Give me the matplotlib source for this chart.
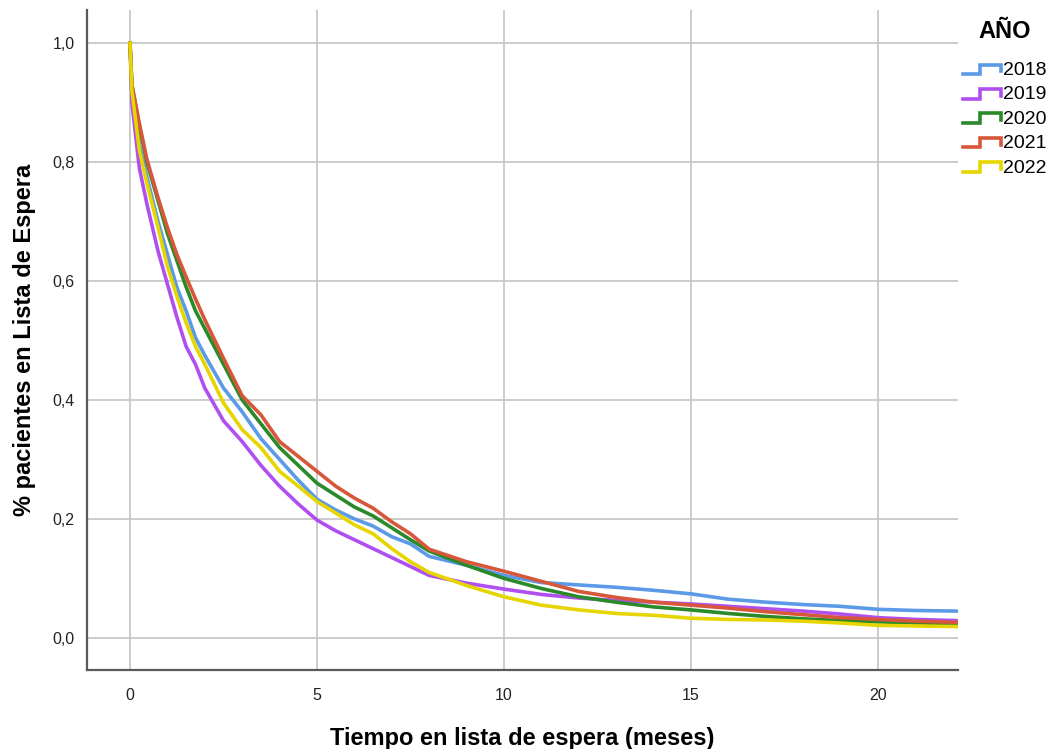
import matplotlib
matplotlib.use('Agg')
import matplotlib.pyplot as plt
from matplotlib.lines import Line2D
from matplotlib.legend_handler import HandlerBase

plt.rcParams['font.family'] = ['Liberation Sans', 'DejaVu Sans']

# tiempo (meses) y supervivencia
t = [0, 0.05, 0.25, 0.45, 0.75, 1, 1.25, 1.5, 1.75, 2, 2.5, 3, 3.5, 4, 4.5,
     5, 5.5, 6, 6.5, 7, 7.5, 8, 9, 10, 11, 12, 13, 14, 15, 16, 17, 18, 19,
     20, 21, 22.1]

s2018 = [1.0, 0.92, 0.83, 0.775, 0.70, 0.645, 0.59, 0.55, 0.505, 0.475, 0.42,
         0.38, 0.335, 0.30, 0.265, 0.233, 0.215, 0.20, 0.188, 0.17, 0.158,
         0.137, 0.122, 0.105, 0.093, 0.089, 0.085, 0.080, 0.074, 0.065, 0.060,
         0.056, 0.053, 0.048, 0.046, 0.045]
s2019 = [1.0, 0.90, 0.79, 0.73, 0.65, 0.595, 0.54, 0.49, 0.46, 0.42, 0.365,
         0.33, 0.29, 0.255, 0.225, 0.198, 0.18, 0.165, 0.15, 0.135, 0.12,
         0.105, 0.092, 0.082, 0.073, 0.067, 0.063, 0.060, 0.057, 0.053, 0.049,
         0.045, 0.040, 0.034, 0.031, 0.029]
s2020 = [1.0, 0.93, 0.86, 0.80, 0.735, 0.68, 0.635, 0.59, 0.55, 0.52, 0.46,
         0.40, 0.36, 0.32, 0.29, 0.26, 0.24, 0.22, 0.205, 0.185, 0.165,
         0.146, 0.122, 0.100, 0.083, 0.069, 0.060, 0.052, 0.047, 0.041, 0.036,
         0.032, 0.029, 0.027, 0.025, 0.024]
s2021 = [1.0, 0.93, 0.865, 0.805, 0.74, 0.69, 0.645, 0.607, 0.57, 0.535, 0.47,
         0.407, 0.375, 0.33, 0.305, 0.28, 0.255, 0.235, 0.218, 0.195, 0.175,
         0.149, 0.128, 0.112, 0.095, 0.078, 0.068, 0.060, 0.055, 0.050, 0.044,
         0.039, 0.034, 0.031, 0.028, 0.026]
s2022 = [1.0, 0.92, 0.82, 0.765, 0.69, 0.625, 0.575, 0.53, 0.49, 0.46, 0.395,
         0.35, 0.32, 0.28, 0.255, 0.229, 0.21, 0.19, 0.175, 0.15, 0.128,
         0.11, 0.088, 0.069, 0.055, 0.047, 0.041, 0.038, 0.033, 0.031, 0.030,
         0.028, 0.025, 0.021, 0.020, 0.019]

years = ['2018', '2019', '2020', '2021', '2022']
series = [s2018, s2019, s2020, s2021, s2022]
colors = ['#5a9ae6', '#b04ff0', '#2a8a2a', '#d6573a', '#e6d500']

xticks = [0, 5, 10, 15, 20]
yticks = [0.0, 0.2, 0.4, 0.6, 0.8, 1.0]


class StepHandler(HandlerBase):
    # icono escalonado como en la leyenda de SPSS
    def create_artists(self, legend, orig_handle, xdescent, ydescent,
                       width, height, fontsize, trans):
        x0 = -xdescent
        y0 = -ydescent
        xs = [x0, x0 + 0.45 * width, x0 + 0.45 * width, x0 + width, x0 + width]
        ys = [y0 + 0.05 * height, y0 + 0.05 * height, y0 + 0.75 * height,
              y0 + 0.75 * height, y0 + 0.25 * height]
        ln = Line2D(xs, ys, color=orig_handle.get_color(), lw=2.6,
                    solid_joinstyle='miter', transform=trans)
        return [ln]


fig = plt.figure(figsize=(10.57, 7.49), dpi=100)
ax = fig.add_axes([0.0823, 0.1055, 0.824, 0.8811])

handles = []
for yr, s, c in zip(years, series, colors):
    l, = ax.plot(t, s, color=c, lw=2.6, label=yr, zorder=3)
    handles.append(l)

ax.set_xlim(-1.15, 22.14)
ax.set_ylim(-0.054, 1.0555)
ax.set_xticks(xticks)
ax.set_yticks(yticks)
ax.set_yticklabels(['{:.1f}'.format(v).replace('.', ',') for v in yticks])
ax.tick_params(length=0, labelsize=11.5, colors='#222222')
ax.tick_params(axis='x', pad=13)
ax.tick_params(axis='y', pad=9)

ax.grid(True, color='#c4c4c4', lw=1.2)
ax.set_axisbelow(True)
for side in ['top', 'right']:
    ax.spines[side].set_visible(False)
for side in ['left', 'bottom']:
    ax.spines[side].set_color('#5a5a5a')
    ax.spines[side].set_linewidth(1.6)

ax.set_xlabel('Tiempo en lista de espera (meses)', fontsize=17,
              fontweight='bold', labelpad=17)
ax.set_ylabel('% pacientes en Lista de Espera', fontsize=17,
              fontweight='bold', labelpad=12)

leg = fig.legend(handles=handles, labels=years, loc='upper left',
                 bbox_to_anchor=(0.9015, 0.986), frameon=False, borderpad=0,
                 title='AÑO', fontsize=14, handlelength=1.95,
                 handletextpad=0.15, labelspacing=0.35,
                 handler_map={Line2D: StepHandler()})
leg.get_title().set_fontweight('bold')
leg.get_title().set_fontsize(17)
leg._legend_box.sep = 13

fig.savefig('out.png', dpi=100)
